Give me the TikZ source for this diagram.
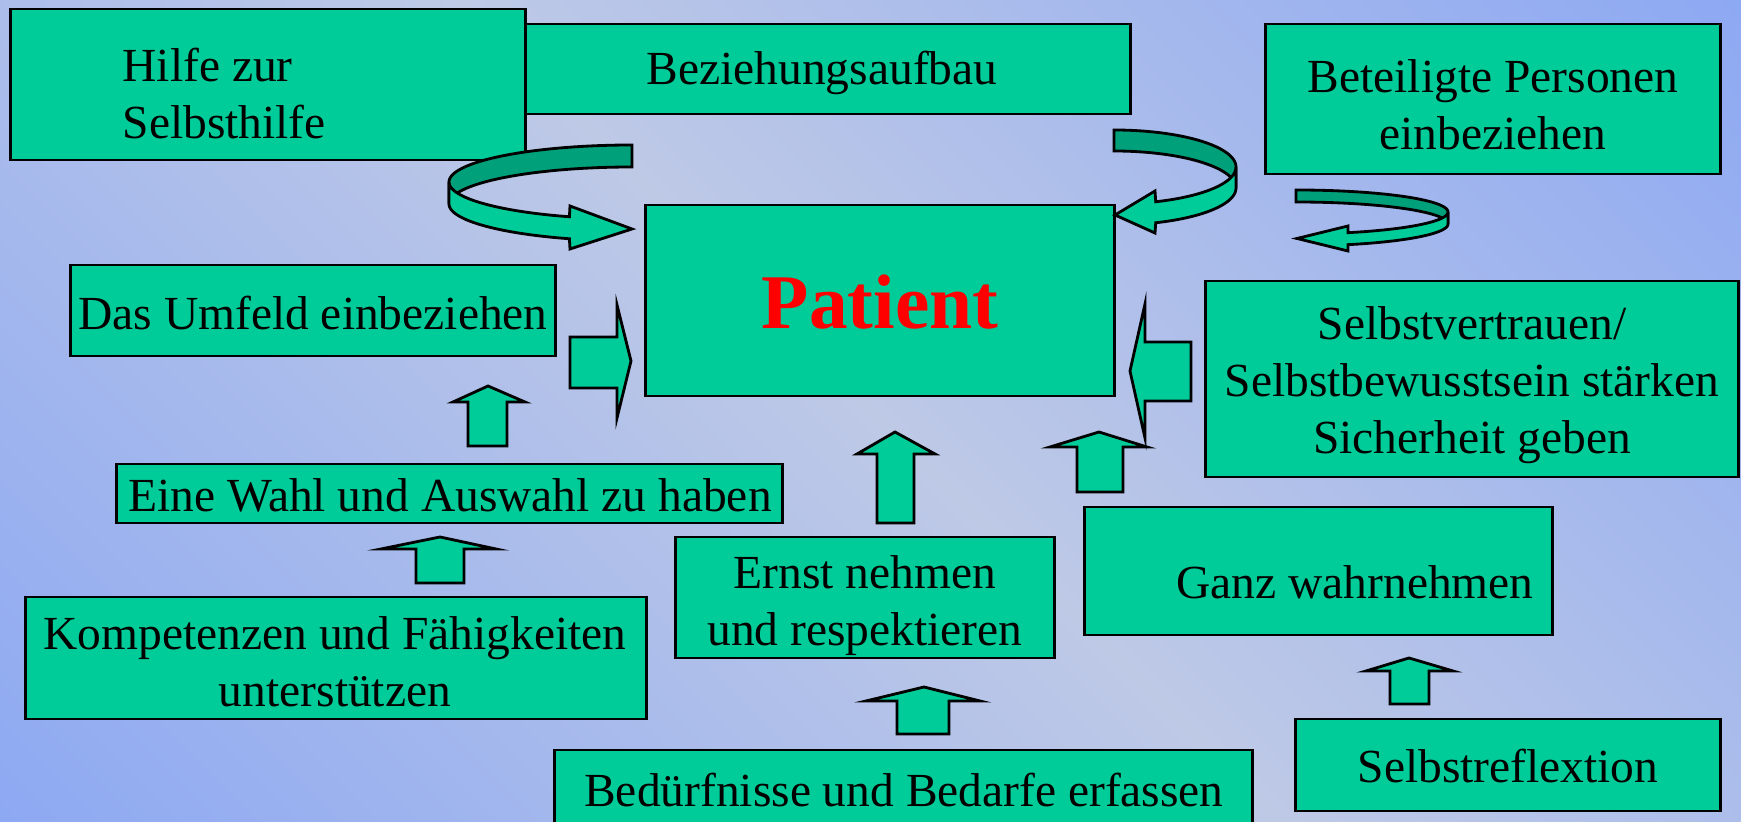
\documentclass[tikz,border=0pt]{standalone}
\usepackage{fontspec}
\setmainfont{Liberation Serif}
\definecolor{kastengruen}{RGB}{0,204,153}
\definecolor{banddunkel}{RGB}{0,160,122}
\definecolor{blaurand}{RGB}{122,156,248}
\definecolor{blaumitte}{RGB}{190,201,230}
\pgfdeclareverticalshading{hintergrund}{100bp}{color(0bp)=(blaurand); color(50bp)=(blaumitte); color(100bp)=(blaurand)}
\begin{document}
\begin{tikzpicture}[x=0.01cm, y=-0.01cm,
	kasten/.style={shape=rectangle, draw, line width=0.8pt, fill=kastengruen, inner sep=0},
	schrift/.style={font=\fontsize{13.5}{16.2}\selectfont, align=center, inner sep=0},
	pfeil/.style={draw, line width=0.8pt, fill=kastengruen},
	bandhell/.style={draw, line width=0.8pt, fill=kastengruen},
	bandschatten/.style={draw, line width=0.8pt, fill=banddunkel}]
	\useasboundingbox (0,0) rectangle (1741,822);
	\shade[shading=hintergrund, shading angle=-45] (0,0) rectangle (1741,822);
	\node[kasten, minimum width=6.17cm, minimum height=0.90cm] (bezieh) at (821.5,69) {};
	\node[kasten, minimum width=5.14cm, minimum height=1.51cm] (hilfe) at (268,84.5) {};
	\node[kasten, minimum width=4.54cm, minimum height=1.50cm] (beteiligt) at (1493,99) {};
	\node[kasten, minimum width=4.68cm, minimum height=1.91cm] (patient) at (880,300.5) {};
	\node[kasten, minimum width=4.84cm, minimum height=0.91cm] (umfeld) at (313,310.5) {};
	\node[kasten, minimum width=6.65cm, minimum height=0.59cm] (wahl) at (449.5,493.5) {};
	\node[kasten, minimum width=6.20cm, minimum height=1.22cm] (kompetenz) at (336,658) {};
	\node[kasten, minimum width=3.78cm, minimum height=1.21cm] (ernst) at (865,597.5) {};
	\node[kasten, minimum width=6.97cm, minimum height=0.90cm] (beduerfnis) at (903.5,795) {};
	\node[kasten, minimum width=4.67cm, minimum height=1.28cm] (ganz) at (1318.5,571) {};
	\node[kasten, minimum width=5.32cm, minimum height=1.96cm] (vertrauen) at (1472,379) {};
	\node[kasten, minimum width=4.24cm, minimum height=0.92cm] (reflexion) at (1508,765) {};
	\node[schrift] (beziehT) at (822,73) {Beziehungsaufbau};
	\node[schrift, anchor=west, align=left] (hilfeT) at (122,94) {Hilfe zur\\Selbsthilfe};
	\node[schrift] (beteiligtT) at (1493,105) {Beteiligte Personen\\einbeziehen};
	\node[font=\fontsize{22}{26}\selectfont\bfseries, text=red, inner sep=0] (patientT) at (880,302) {Patient};
	\node[schrift] (umfeldT) at (313,313) {Das Umfeld einbeziehen};
	\node[schrift] (wahlT) at (450,495) {Eine Wahl und Auswahl zu haben};
	\node[schrift] (kompetenzT) at (335,662) {Kompetenzen und Fähigkeiten\\unterstützen};
	\node[schrift] (ernstT) at (865,606) {Ernst nehmen\\und respektieren};
	\node[schrift] (beduerfnisT) at (904,790) {Bedürfnisse und Bedarfe erfassen};
	\node[schrift] (ganzT) at (1355,582) {Ganz wahrnehmen};
	\node[schrift] (vertrauenT) at (1472,385) {Selbstvertrauen/\\Selbstbewusstsein stärken\\Sicherheit geben};
	\node[schrift] (reflexionT) at (1508,766) {Selbstreflextion};
	\filldraw[bandschatten] plot[domain=270:180, samples=50] ({632+183*cos(\x)}, {182+37*sin(\x)}) -- plot[domain=180:270, samples=50] ({632+183*cos(\x)}, {204+37*sin(\x)}) -- cycle;
	\filldraw[bandhell] plot[domain=180:110, samples=50] ({632+183*cos(\x)}, {182+37*sin(\x)}) -- (570,206) -- (632,229) -- (570,249) -- plot[domain=110:180, samples=50] ({632+183*cos(\x)}, {204+37*sin(\x)}) -- cycle;
	\filldraw[bandschatten] plot[domain=270:360, samples=50] ({1114+122*cos(\x)}, {167+37*sin(\x)}) -- plot[domain=360:270, samples=50] ({1114+122*cos(\x)}, {188+37*sin(\x)}) -- cycle;
	\filldraw[bandhell] plot[domain=0:70, samples=50] ({1114+122*cos(\x)}, {167+37*sin(\x)}) -- (1155,191) -- (1115,215) -- (1155,233) -- plot[domain=70:0, samples=50] ({1114+122*cos(\x)}, {188+37*sin(\x)}) -- cycle;
	\filldraw[bandschatten] plot[domain=270:360, samples=50] ({1296+152*cos(\x)}, {212+22*sin(\x)}) -- plot[domain=360:270, samples=50] ({1296+152*cos(\x)}, {224+22*sin(\x)}) -- cycle;
	\filldraw[bandhell] plot[domain=0:70, samples=50] ({1296+152*cos(\x)}, {212+22*sin(\x)}) -- (1348,226) -- (1297,238.5) -- (1348,251) -- plot[domain=70:0, samples=50] ({1296+152*cos(\x)}, {224+22*sin(\x)}) -- cycle;
	\filldraw[pfeil] (570,337) -- (617,337) -- (617,305) -- (631,361) -- (617,418) -- (617,388) -- (570,388) -- cycle;
	\filldraw[pfeil] (1191,342) -- (1145,342) -- (1145,304) -- (1130,371) -- (1145,438) -- (1145,401) -- (1191,401) -- cycle;
	\filldraw[pfeil] (468,446) -- (468,402) -- (453,402) -- (488,386) -- (525,402) -- (507,402) -- (507,446) -- cycle;
	\filldraw[pfeil] (416,583) -- (416,549) -- (381,549) -- (440,537) -- (496,549) -- (464,549) -- (464,583) -- cycle;
	\filldraw[pfeil] (877,523) -- (877,454) -- (857,454) -- (895,432) -- (935,454) -- (914,454) -- (914,523) -- cycle;
	\filldraw[pfeil] (1077,492) -- (1077,447) -- (1050,447) -- (1099,432) -- (1147,447) -- (1123,447) -- (1123,492) -- cycle;
	\filldraw[pfeil] (897,734) -- (897,701) -- (866,701) -- (924,687) -- (980,701) -- (949,701) -- (949,734) -- cycle;
	\filldraw[pfeil] (1390,704) -- (1390,671) -- (1366,671) -- (1409,658) -- (1453,671) -- (1429,671) -- (1429,704) -- cycle;
\end{tikzpicture}
\end{document}
